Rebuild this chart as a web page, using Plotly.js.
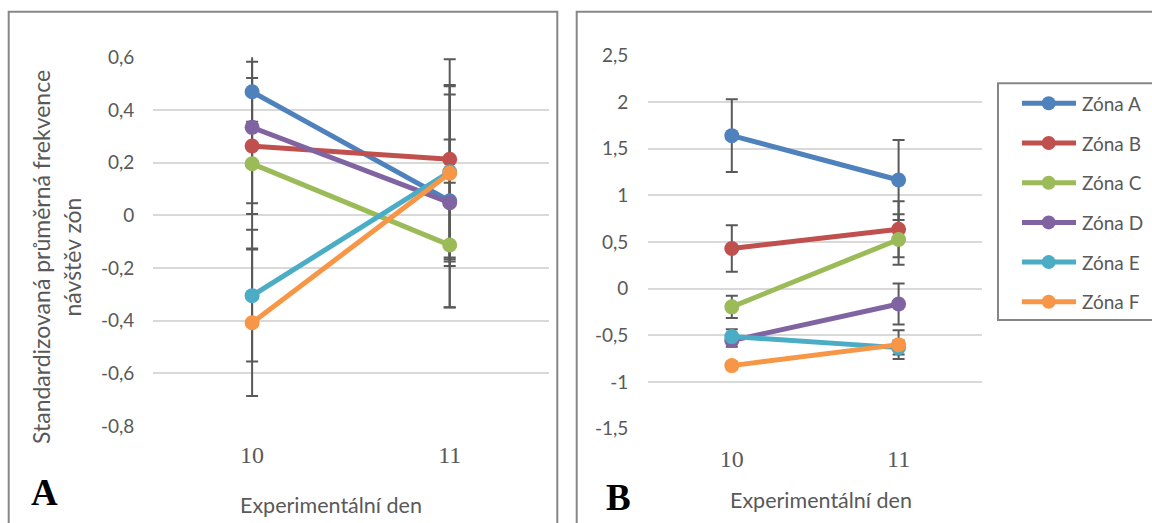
<!DOCTYPE html>
<html>
<head>
<meta charset="utf-8">
<script src="https://cdn.plot.ly/plotly-3.0.1.min.js"></script>
<style>
  html, body { margin: 0; padding: 0; background: #ffffff; }
  #chart { width: 1152px; height: 523px; }
</style>
</head>
<body>
<div id="chart"></div>
<script>
// Experimental days on the category axis
const days = ['10', '11'];
const zones = ['Zóna A', 'Zóna B', 'Zóna C', 'Zóna D', 'Zóna E', 'Zóna F'];

// Panel A: standardized mean visit frequency per zone (order A..F), with error
const meanA10 = [0.469, 0.263, 0.196, 0.334, -0.305, -0.408];
const meanA11 = [0.055, 0.213, -0.113, 0.048, 0.165, 0.160];
const errA10  = [0.114, 0.258, 0.150, 0.460, 0.250, 0.278];
const errA11  = [0.404, 0.380, 0.237, 0.240, 0.325, 0.335];

// Panel B
const meanB10 = [1.640, 0.431, -0.195, -0.557, -0.514, -0.825];
const meanB11 = [1.165, 0.636, 0.527, -0.164, -0.632, -0.600];
const errB10  = [0.390, 0.249, 0.120, 0.065, 0.080, 0.040];
const errB11  = [0.429, 0.300, 0.270, 0.220, 0.075, 0.155];

// Value-axis ticks
const tickValsA = [0.6, 0.4, 0.2, 0, -0.2, -0.4, -0.6, -0.8];
const tickTextA = ['0,6', '0,4', '0,2', '0', '-0,2', '-0,4', '-0,6', '-0,8'];
const tickValsB = [2.5, 2, 1.5, 1, 0.5, 0, -0.5, -1, -1.5];
const tickTextB = ['2,5', '2', '1,5', '1', '0,5', '0', '-0,5', '-1', '-1,5'];

const xTitle = 'Experimentální den';
const yTitleLines = ['Standardizovaná průměrná frekvence', 'návštěv zón'];

const colors = ['#4F81BD', '#C0504D', '#9BBB59', '#8064A2', '#4BACC6', '#F79646'];

const W = 1152, H = 523;
const px = v => v / W;
const py = v => 1 - v / H;

const textGray = '#595959';
const sans = 'Lato, "Open Sans", sans-serif';
const serif = '"Liberation Serif", "DejaVu Serif", serif';

function panelTraces(m10, m11, e10, e11, xa, ya) {
  const bars = [], lines = [];
  zones.forEach((z, i) => {
    // error bars go underneath the lines and markers
    bars.push({
      type: 'scatter', mode: 'markers', x: days, y: [m10[i], m11[i]],
      xaxis: xa, yaxis: ya,
      marker: { size: 1, color: 'rgba(0,0,0,0)' },
      error_y: { type: 'data', array: [e10[i], e11[i]], visible: true,
                 color: '#595959', thickness: 2, width: 6 },
      hoverinfo: 'skip', showlegend: false
    });
    lines.push({
      type: 'scatter', mode: 'lines+markers', name: z, x: days, y: [m10[i], m11[i]],
      xaxis: xa, yaxis: ya,
      line: { color: colors[i], width: 5 },
      marker: { color: colors[i], size: 15 },
      showlegend: false
    });
  });
  return bars.concat(lines);
}

const data = panelTraces(meanA10, meanA11, errA10, errA11, 'x', 'y')
  .concat(panelTraces(meanB10, meanB11, errB10, errB11, 'x2', 'y2'));

const xAxisBase = {
  type: 'category', range: [-0.5, 1.5], showgrid: false, zeroline: false,
  showline: false, ticks: '', fixedrange: true,
  tickfont: { family: serif, size: 24, color: textGray }
};
const yAxisBase = {
  showgrid: true, gridcolor: '#d9d9d9', gridwidth: 2, zeroline: false,
  showline: false, ticks: '', tickmode: 'array', fixedrange: true,
  tickfont: { family: sans, size: 19, color: textGray }
};

const shapes = [];
const annotations = [];

// panel frames
shapes.push({ type: 'rect', xref: 'paper', yref: 'paper',
  x0: px(8.7), x1: px(557.3), y0: py(535), y1: py(11.7),
  line: { color: '#868686', width: 2 } });
shapes.push({ type: 'rect', xref: 'paper', yref: 'paper',
  x0: px(576.7), x1: px(1165), y0: py(535), y1: py(11.7),
  line: { color: '#868686', width: 2 } });

// legend box and entries
shapes.push({ type: 'rect', xref: 'paper', yref: 'paper',
  x0: px(998), x1: px(1165), y0: py(320), y1: py(83.3),
  line: { color: '#868686', width: 2 } });
zones.forEach((z, i) => {
  const yy = 103.3 + i * 39.7;
  shapes.push({ type: 'line', xref: 'paper', yref: 'paper',
    x0: px(1022), x1: px(1076), y0: py(yy), y1: py(yy),
    line: { color: colors[i], width: 5 } });
  shapes.push({ type: 'circle', xref: 'paper', yref: 'paper',
    x0: px(1048.7 - 7), x1: px(1048.7 + 7), y0: py(yy + 7), y1: py(yy - 7),
    fillcolor: colors[i], line: { width: 0 } });
  annotations.push({ xref: 'paper', yref: 'paper', x: px(1080), y: py(yy),
    xanchor: 'left', yanchor: 'middle', showarrow: false, text: z,
    font: { family: sans, size: 19, color: textGray } });
});

// axis titles
annotations.push({ xref: 'paper', yref: 'paper', x: px(331), y: py(505),
  xanchor: 'center', yanchor: 'middle', showarrow: false, text: xTitle,
  font: { family: sans, size: 21.5, color: textGray } });
annotations.push({ xref: 'paper', yref: 'paper', x: px(821), y: py(500),
  xanchor: 'center', yanchor: 'middle', showarrow: false, text: xTitle,
  font: { family: sans, size: 21.5, color: textGray } });
annotations.push({ xref: 'paper', yref: 'paper', x: px(40.5), y: py(257.5),
  xanchor: 'center', yanchor: 'middle', showarrow: false, textangle: -90,
  text: yTitleLines[0], font: { family: sans, size: 23, color: textGray } });
annotations.push({ xref: 'paper', yref: 'paper', x: px(71), y: py(257.5),
  xanchor: 'center', yanchor: 'middle', showarrow: false, textangle: -90,
  text: yTitleLines[1], font: { family: sans, size: 23, color: textGray } });

// panel letters
annotations.push({ xref: 'paper', yref: 'paper', x: px(44.2), y: py(492.5),
  xanchor: 'center', yanchor: 'middle', showarrow: false, text: '<b>A</b>',
  font: { family: serif, size: 37, color: '#000000' } });
annotations.push({ xref: 'paper', yref: 'paper', x: px(618), y: py(497.5),
  xanchor: 'center', yanchor: 'middle', showarrow: false, text: '<b>B</b>',
  font: { family: serif, size: 37, color: '#000000' } });

const layout = {
  width: W, height: H,
  margin: { l: 0, r: 0, t: 0, b: 0 },
  paper_bgcolor: '#ffffff', plot_bgcolor: 'rgba(0,0,0,0)',
  showlegend: false,
  xaxis: Object.assign({}, xAxisBase, { domain: [px(153.3), px(548.5)], anchor: 'y', ticklabelstandoff: 12 }),
  yaxis: Object.assign({}, yAxisBase, { domain: [py(426), py(57.3)], anchor: 'x',
    range: [-0.8, 0.6], tickvals: tickValsA, ticktext: tickTextA, ticklabelstandoff: 18 }),
  xaxis2: Object.assign({}, xAxisBase, { domain: [px(648.4), px(982)], anchor: 'y2', ticklabelstandoff: 13 }),
  yaxis2: Object.assign({}, yAxisBase, { domain: [py(428.6), py(55.4)], anchor: 'x2',
    range: [-1.5, 2.5], tickvals: tickValsB, ticktext: tickTextB, ticklabelstandoff: 19 }),
  shapes: shapes,
  annotations: annotations
};

Plotly.newPlot('chart', data, layout, { displayModeBar: false, staticPlot: true });
</script>
</body>
</html>
